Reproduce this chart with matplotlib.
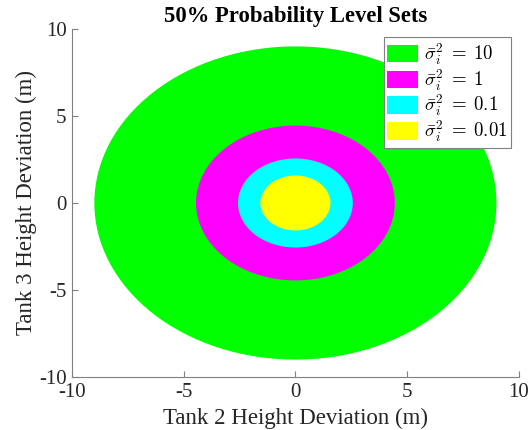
import numpy as np
import matplotlib
matplotlib.use("Agg")
import matplotlib.pyplot as plt
from matplotlib.patches import Ellipse

# Data
variances = ["10", "1", "0.1", "0.01"]
radius_x = [9.0, 4.45, 2.57, 1.57]
radius_y = [9.0, 4.45, 2.56, 1.58]
colors = ["#00FF00", "#FF00FF", "#00FFFF", "#FFFF00"]
xticks = [-10, -5, 0, 5, 10]
yticks = [-10, -5, 0, 5, 10]

plt.rcParams['font.family'] = ['Liberation Serif', 'DejaVu Serif']
plt.rcParams['mathtext.fontset'] = 'cm'

fig = plt.figure(figsize=(5.31, 4.30), dpi=100)
ax = fig.add_axes([0.1356, 0.1233, 0.8414, 0.8093])

for v, rx, ry, c in zip(variances, radius_x, radius_y, colors):
    e = Ellipse((0, 0), 2 * rx, 2 * ry, facecolor=c, edgecolor='none',
                label=r'$\bar{\sigma}_i^2\;=\;%s$' % v)
    ax.add_patch(e)

ax.set_xlim(-10, 10)
ax.set_ylim(-10, 10)
ax.set_xticks(xticks)
ax.set_yticks(yticks)
ax.set_xticklabels([str(t) for t in xticks])
ax.set_yticklabels([str(t) for t in yticks])

for s in ['top', 'right']:
    ax.spines[s].set_visible(False)
for s in ['left', 'bottom']:
    ax.spines[s].set_color('#808080')
    ax.spines[s].set_linewidth(0.8)
ax.tick_params(direction='in', length=4, width=0.8, color='#808080',
               labelsize=15, labelcolor='#262626')
ax.tick_params(axis='x', pad=4)
ax.tick_params(axis='y', pad=4)

ax.set_xlabel('Tank 2 Height Deviation (m)', fontsize=16.5, color='#262626', labelpad=4.5)
ax.set_ylabel('Tank 3 Height Deviation (m)', fontsize=16.5, color='#262626', labelpad=1)
ax.set_title('50% Probability Level Sets', fontsize=16.3, fontweight='bold', pad=5)

leg = ax.legend(loc='upper right', bbox_to_anchor=(0.983, 0.976), fontsize=13.5,
                frameon=True, fancybox=False, edgecolor='#808080', framealpha=1,
                handlelength=1.65, handleheight=1.05, handletextpad=0.3,
                labelspacing=0.0, borderpad=0.2, borderaxespad=0)
leg.get_frame().set_linewidth(0.8)

fig.savefig('out.png', dpi=100)
